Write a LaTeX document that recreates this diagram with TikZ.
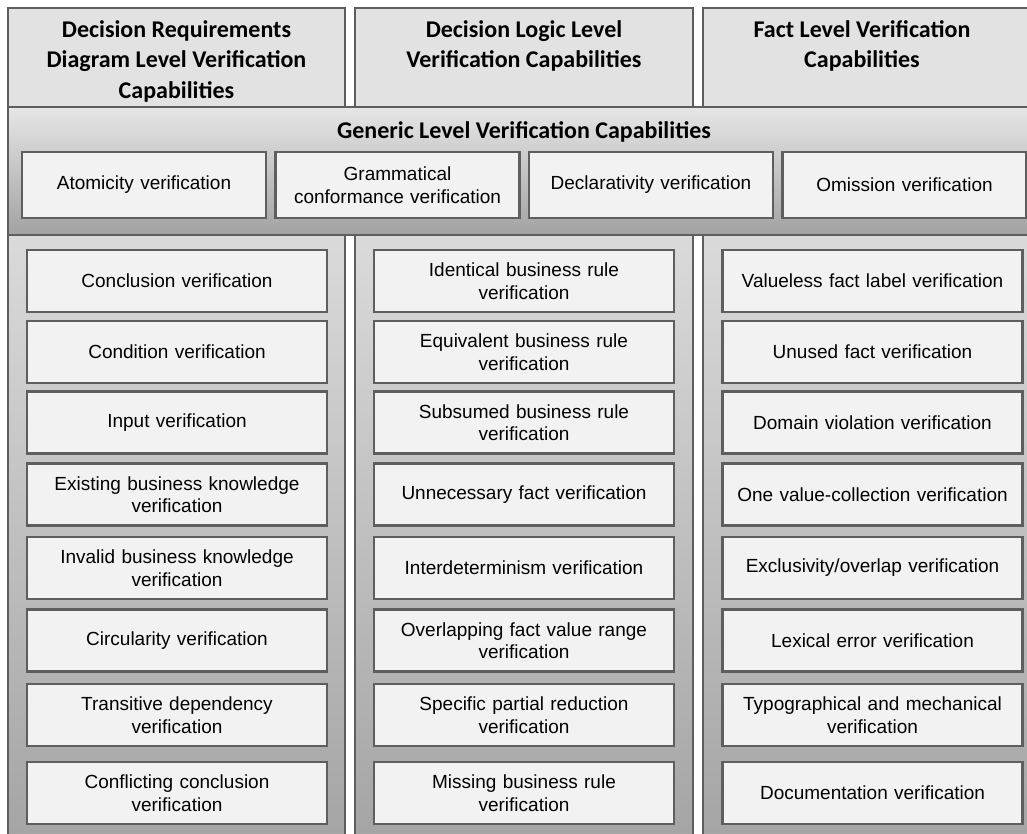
\documentclass[tikz,border=0pt]{standalone}
\usepackage{fontspec}
\newfontfamily\headfont{Carlito}
\newfontfamily\itemfont{Liberation Sans}
\definecolor{edge}{HTML}{5E5E5E}
\definecolor{boxfill}{HTML}{F2F2F2}
\definecolor{headfill}{HTML}{E2E2E2}
\definecolor{lighttop}{HTML}{E6E6E6}
\definecolor{darkbottom}{HTML}{A2A2A2}
\definecolor{coltop}{HTML}{DADADA}
\definecolor{colbottom}{HTML}{A4A4A4}
\begin{document}
\begin{tikzpicture}[x=1pt,y=-1pt,
  header/.style={draw=edge, line width=2.2pt, fill=headfill},
  band/.style={draw=edge, line width=2.2pt, top color=lighttop, bottom color=darkbottom},
  column/.style={draw=edge, line width=2.2pt, top color=coltop, bottom color=colbottom},
  headtext/.style={font=\headfont\bfseries\fontsize{24}{30.5}\selectfont, align=center, inner sep=0pt},
  item/.style={draw=edge, line width=2.2pt, fill=boxfill, minimum width=300pt, minimum height=62pt,
    inner sep=0pt, align=center, text width=296pt,
    font=\itemfont\fontsize{19}{22.5}\selectfont},
  generic/.style={item, minimum width=244pt, minimum height=66pt, text width=240pt}
]
\useasboundingbox (0,0) rectangle (1027,833);
\clip (0,0) rectangle (1027,833);

% column headers
\path[header] (8,8) rectangle (345,107);
\path[header] (355,8) rectangle (693,107);
\path[header] (703,8) rectangle (1040,107);
\node[headtext, anchor=north] (hdrd) at (176.5,20) {Decision Requirements\\Diagram Level Verification\\Capabilities};
\node[headtext, anchor=north] (hdl) at (524,20) {Decision Logic Level\\Verification Capabilities};
\node[headtext, anchor=north] (hfl) at (862,20) {Fact Level Verification\\Capabilities};

% generic band across all columns
\path[band] (8,107) rectangle (1040,235);
\node[headtext] (hgen) at (524,131.5) {Generic Level Verification Capabilities};
\node[generic] (g1) at (144,185) {Atomicity verification};
\node[generic] (g2) at (397.5,185) {Grammatical\\conformance verification};
\node[generic] (g3) at (651,185) {Declarativity verification};
\node[generic] (g4) at (904.5,185) {Omission verification};

% lower columns
\path[column] (8,235) rectangle (345,845);
\path[column] (355,235) rectangle (693,845);
\path[column] (703,235) rectangle (1040,845);

% decision requirements diagram level
\node[item] (a1) at (177,281) {Conclusion verification};
\node[item] (a2) at (177,352) {Condition verification};
\node[item] (a3) at (177,422.5) {Input verification};
\node[item] (a4) at (177,494.5) {Existing business knowledge\\verification};
\node[item] (a5) at (177,568) {Invalid business knowledge\\verification};
\node[item] (a6) at (177,640.5) {Circularity verification};
\node[item] (a7) at (177,715) {Transitive dependency\\verification};
\node[item] (a8) at (177,793) {Conflicting conclusion\\verification};

% decision logic level
\node[item] (b1) at (524,281) {Identical business rule\\verification};
\node[item] (b2) at (524,352) {Equivalent business rule\\verification};
\node[item] (b3) at (524,422.5) {Subsumed business rule\\verification};
\node[item] (b4) at (524,494.5) {Unnecessary fact verification};
\node[item] (b5) at (524,568) {Interdeterminism verification};
\node[item] (b6) at (524,640.5) {Overlapping fact value range\\verification};
\node[item] (b7) at (524,715) {Specific partial reduction\\verification};
\node[item] (b8) at (524,793) {Missing business rule\\verification};

% fact level
\node[item] (c1) at (872.5,281) {Valueless fact label verification};
\node[item] (c2) at (872.5,352) {Unused fact verification};
\node[item] (c3) at (872.5,422.5) {Domain violation verification};
\node[item] (c4) at (872.5,494.5) {One value-collection verification};
\node[item] (c5) at (872.5,568) {Exclusivity/overlap verification};
\node[item] (c6) at (872.5,640.5) {Lexical error verification};
\node[item] (c7) at (872.5,715) {Typographical and mechanical\\verification};
\node[item] (c8) at (872.5,793) {Documentation verification};
\end{tikzpicture}
\end{document}
